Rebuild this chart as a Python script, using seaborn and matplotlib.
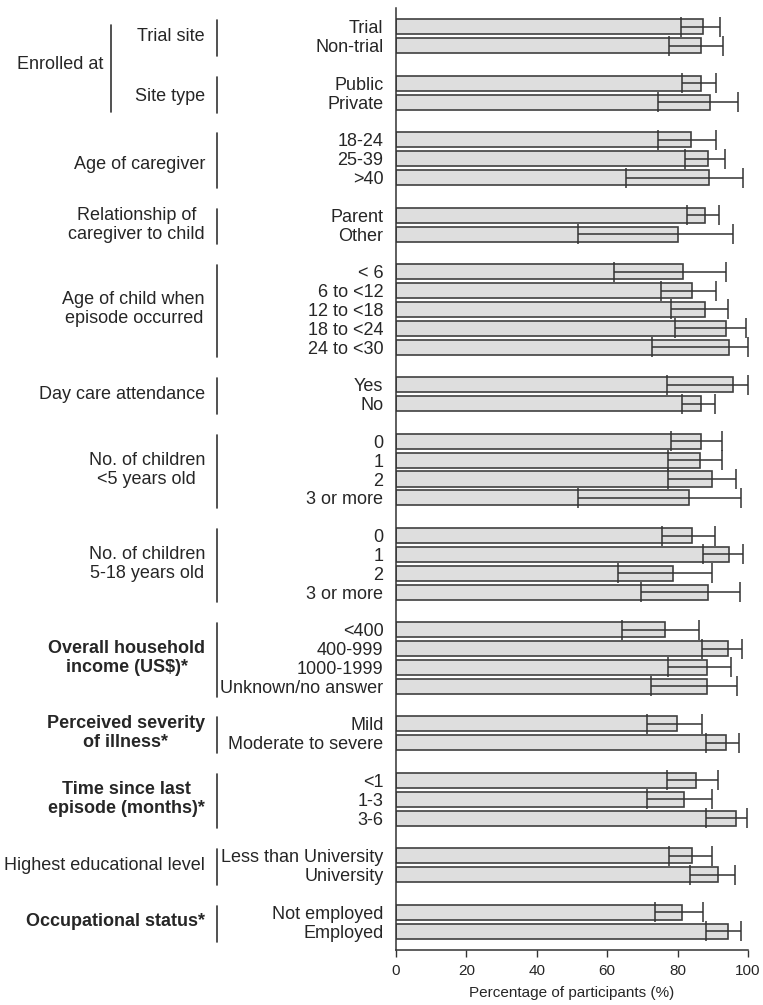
import matplotlib
matplotlib.use("Agg")
import matplotlib.pyplot as plt
import matplotlib.transforms as mtransforms
from matplotlib.lines import Line2D
import numpy as np
import pandas as pd
import seaborn as sns

# ---------------------------------------------------------------------------
# Data
# ---------------------------------------------------------------------------
GROUP_NAMES = [
    "Trial site", "Site type", "Age of caregiver",
    "Relationship of\ncaregiver to child", "Age of child when\nepisode occurred",
    "Day care attendance", "No. of children\n<5 years old",
    "No. of children\n5-18 years old", "Overall household\nincome (US$)*",
    "Perceived severity\nof illness*", "Time since last\nepisode (months)*",
    "Highest educational level", "Occupational status*",
]
GROUP_SIZES = [2, 2, 3, 2, 5, 2, 4, 4, 4, 2, 3, 2, 2]

CATEGORIES = [
    "Trial", "Non-trial",
    "Public", "Private",
    "18-24", "25-39", ">40",
    "Parent", "Other",
    "< 6", "6 to <12", "12 to <18", "18 to <24", "24 to <30",
    "Yes", "No",
    "0", "1", "2", "3 or more",
    "0", "1", "2", "3 or more",
    "<400", "400-999", "1000-1999", "Unknown/no answer",
    "Mild", "Moderate to severe",
    "<1", "1-3", "3-6",
    "Less than University", "University",
    "Not employed", "Employed",
]
PCT = [
    87.2, 86.6,
    86.6, 89.3,
    83.9, 88.6, 88.9,
    87.8, 80.0,
    81.6, 84.2, 87.8, 93.8, 94.5,
    95.6, 86.6,
    86.7, 86.5, 89.7, 83.3,
    84.2, 94.7, 78.6, 88.6,
    76.5, 94.2, 88.4, 88.4,
    79.8, 93.8,
    85.1, 81.8, 96.7,
    84.2, 91.4,
    81.3, 94.4,
]
CI_LOW = [
    80.9, 77.6,
    81.2, 74.5,
    74.5, 82.1, 65.3,
    82.7, 51.8,
    61.9, 75.4, 78.0, 79.3, 72.8,
    77.1, 81.3,
    78.2, 77.4, 77.3, 51.6,
    75.6, 87.1, 63.2, 69.7,
    64.2, 86.9, 77.3, 72.5,
    71.2, 88.2,
    77.1, 71.3, 88.0,
    77.5, 83.6,
    73.5, 88.2,
]
CI_HIGH = [
    92.1, 92.8,
    90.9, 97.2,
    90.9, 93.4, 98.7,
    91.8, 95.7,
    93.7, 90.9, 94.3, 99.3, 100.0,
    100.0, 90.7,
    92.7, 92.7, 96.6, 97.9,
    90.7, 98.5, 89.8, 97.6,
    86.2, 98.2, 95.2, 96.8,
    86.8, 97.4,
    91.4, 89.7, 99.7,
    89.7, 96.3,
    87.2, 98.0,
]

# small vertical nudges of some group labels (in rows), as in the original
LABEL_NUDGE = {"Site type": 0.2, "Age of caregiver": 0.3}

# ---------------------------------------------------------------------------
# Row positions: one blank row between groups
# ---------------------------------------------------------------------------
rows, group_rows = [], []
r = 0
for size in GROUP_SIZES:
    group_rows.append((r, r + size - 1))
    rows.extend(range(r, r + size))
    r += size + 1
last_row = rows[-1]

df = pd.DataFrame({"row": rows, "label": CATEGORIES, "pct": PCT,
                   "lo": CI_LOW, "hi": CI_HIGH})

sns.set_style("white")
plt.rcParams["font.family"] = ["Liberation Sans", "DejaVu Sans"]

W, H = 763, 1005
fig = plt.figure(figsize=(W / 100, H / 100), dpi=100)
ax = fig.add_axes([396 / W, 1 - 950 / H, (748 - 396) / W, (950 - 8) / H])

dark = "#333333"
sns.barplot(data=df, x="pct", y="row", orient="h", native_scale=True,
            color="#dedede", edgecolor="#404040", linewidth=1.2,
            errorbar=None, saturation=1, width=0.8, ax=ax)
ax.errorbar(df["pct"], df["row"],
            xerr=[df["pct"] - df["lo"], df["hi"] - df["pct"]],
            fmt="none", ecolor=dark, elinewidth=1.1, capsize=7, capthick=1.1)

ax.set_xlim(0, 100)
ax.set_ylim(last_row + 1, -1)
ax.set_xticks([0, 20, 40, 60, 80, 100])
ax.set_yticks(df["row"])
ax.set_yticklabels(df["label"], fontsize=13)
ax.tick_params(axis="y", length=0, pad=9)
ax.tick_params(axis="x", length=5, width=1, color=dark, labelsize=11,
               direction="out", bottom=True, pad=5)
ax.set_xlabel("Percentage of participants (%)", fontsize=11, labelpad=6)
ax.set_ylabel("")
sns.despine(ax=ax)
for side in ("left", "bottom"):
    ax.spines[side].set_color(dark)
    ax.spines[side].set_linewidth(1.1)

# ---------------------------------------------------------------------------
# Group labels and separator lines on the left
# ---------------------------------------------------------------------------
trans = mtransforms.blended_transform_factory(fig.transFigure, ax.transData)
for name, (first, last) in zip(GROUP_NAMES, group_rows):
    bold = name.endswith("*")
    y = (first + last) / 2 + LABEL_NUDGE.get(name, 0.0)
    fig.text(205 / W, y, name, transform=trans,
             ha="right", va="center", multialignment="center",
             fontsize=13, fontweight="bold" if bold else "normal",
             linespacing=1.15)
    fig.add_artist(Line2D([217 / W, 217 / W], [first - 0.35, last + 0.55],
                          transform=trans, color=dark, lw=1.2))

# outer bracket for the "Enrolled at" block (first two groups)
enr_first, enr_last = group_rows[0][0], group_rows[1][1]
fig.text(103 / W, (enr_first + enr_last) / 2, "Enrolled at", transform=trans,
         ha="right", va="center", fontsize=13)
fig.add_artist(Line2D([111 / W, 111 / W], [enr_first - 0.1, enr_last + 0.5],
                      transform=trans, color=dark, lw=1.2))

fig.savefig("out.png", dpi=100, facecolor="white")
